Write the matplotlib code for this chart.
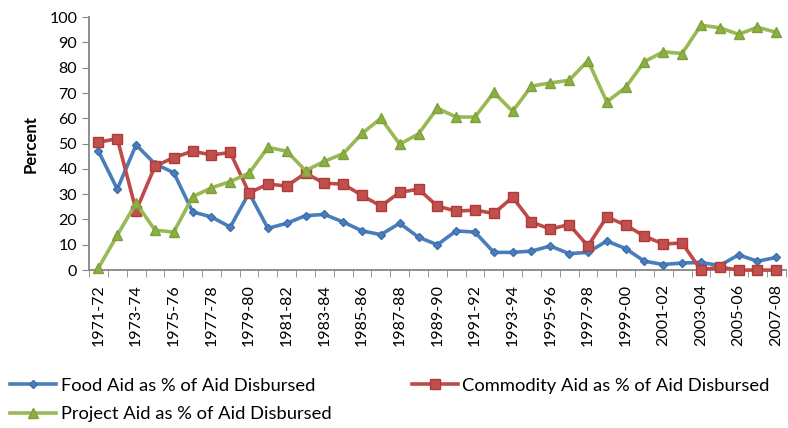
import matplotlib
matplotlib.use("Agg")
from matplotlib import pyplot as plt

years = ["%d-%02d" % (y, (y + 1) % 100) for y in range(1971, 2008)]

food = [47, 32, 49.5, 42, 38.5, 23, 21, 17, 30.5, 16.5, 18.5, 21.5, 22, 19, 15.5, 14, 18.5, 13, 10, 15.5,
        15, 7, 7, 7.5, 9.5, 6.5, 7, 11.5, 8.5, 3.5, 2.2, 2.8, 3, 1.8, 6, 3.5, 5]
commodity = [50.5, 52, 23.5, 41, 44.5, 47, 45.5, 46.5, 30.5, 34, 33.2, 38.3, 34.3, 34, 29.5, 25.3, 30.7, 32,
             25.3, 23.3, 23.7, 22.4, 28.8, 19, 16.2, 18, 9.5, 21, 17.8, 13.4, 10.3, 10.7, 0, 1.2, 0, 0, 0]
project = [0.8, 13.8, 26.5, 15.8, 15, 29, 32.5, 35, 38.3, 48.5, 47, 39.3, 43, 46, 54, 60, 49.8, 53.8, 64,
           60.5, 60.5, 70.2, 62.8, 72.7, 74, 75, 82.8, 66.5, 72.2, 82.4, 86.3, 85.6, 96.8, 95.8, 93.2, 96, 94]

plt.rcParams['font.family'] = ['Lato', 'DejaVu Sans']

fig = plt.figure(figsize=(7.88, 4.28), dpi=100)
ax = fig.add_axes([0.113, 0.369, 0.884, 0.591])

x = list(range(len(years)))
l1, = ax.plot(x, food, color="#4A7EBB", lw=2.6, marker="D", ms=4.5, mec="#3C6FB0", mfc="#4A7EBB", clip_on=False, zorder=3)
l2, = ax.plot(x, commodity, color="#BE4B48", lw=2.6, marker="s", ms=7, mec="#B03A37", mfc="#C0504D", clip_on=False, zorder=3)
l3, = ax.plot(x, project, color="#98B954", lw=2.6, marker="^", ms=7.5, mec="#7F9F3A", mfc="#8CB043", clip_on=False, zorder=3)

ax.set_xlim(-0.5, len(years) - 0.5)
ax.set_ylim(0, 100)
ax.set_yticks(range(0, 101, 10))
ax.set_xticks(x[::2])
ax.set_xticklabels(years[::2], rotation=90, fontsize=11.5)
ax.set_xticks([i + 0.5 for i in range(-1, len(years))], minor=True)
ax.tick_params(axis="x", which="major", length=0, pad=10)
ax.tick_params(axis="x", which="minor", length=5, color="#868686", direction="out")
ax.tick_params(axis="y", length=5, color="#868686", labelsize=11.5)

for s in ["top", "right"]:
    ax.spines[s].set_visible(False)
for s in ["left", "bottom"]:
    ax.spines[s].set_color("#868686")
    ax.spines[s].set_linewidth(1.3)

ax.set_ylabel("Percent", fontsize=12, fontweight="bold", labelpad=8)

fig.legend([l1, l3, l2],
           ["Food Aid as % of Aid Disbursed", "Project Aid as % of Aid Disbursed",
            "Commodity Aid as % of Aid Disbursed"],
           ncol=2, loc="lower left", bbox_to_anchor=(-0.008, -0.025), frameon=False,
           fontsize=13.2, handlelength=2.5, columnspacing=4.4, labelspacing=0.68, handletextpad=0.25)

fig.savefig("out.png", dpi=100)
